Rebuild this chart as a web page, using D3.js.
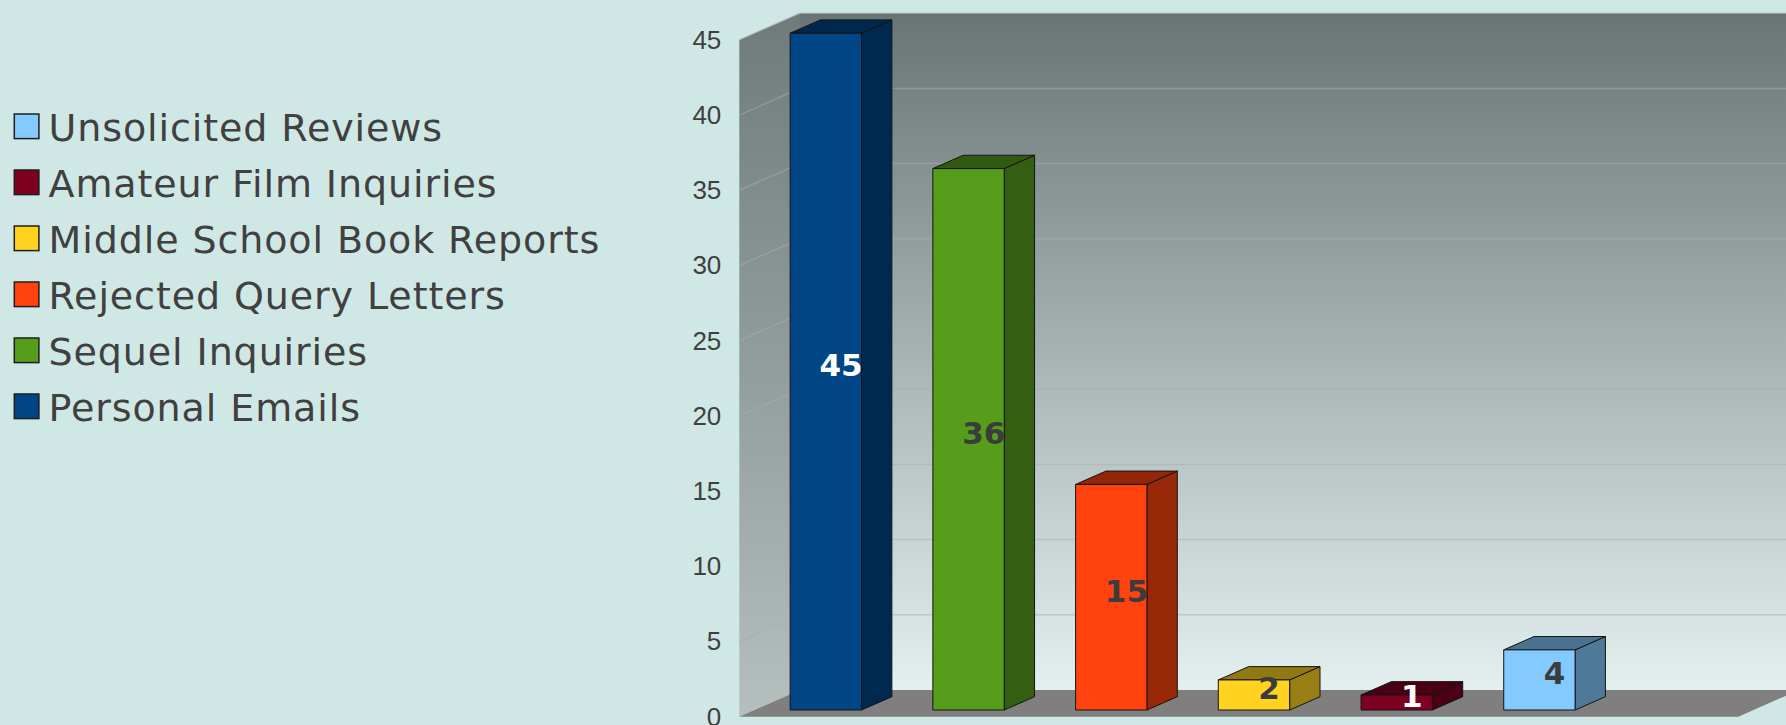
<!DOCTYPE html>
<html>
<head>
<meta charset="utf-8">
<script src="https://cdn.jsdelivr.net/npm/d3@7"></script>
<style>
  html, body { margin: 0; padding: 0; background: #d0e8e5; }
  svg { display: block; }
</style>
</head>
<body>
<svg id="chart" width="1786" height="725"></svg>
<script>
// Mail received, one bar per kind
const categories = ["Personal Emails", "Sequel Inquiries", "Rejected Query Letters",
                    "Middle School Book Reports", "Amateur Film Inquiries", "Unsolicited Reviews"];
const values = [45, 36, 15, 2, 1, 4];
const colors = ["#004586", "#579d1c", "#ff420e", "#ffd320", "#7e0021", "#83caff"];
const yTicks = [0, 5, 10, 15, 20, 25, 30, 35, 40, 45];

const W = 1786, H = 725;
const svg = d3.select("#chart");

// 3D box geometry: front face of the plot, and the depth offset of the back wall
const left = 739.3, floorY = 716.7, plotW = 999, depthX = 60.7, depthY = 26.7;
const slots = categories.length + 1; // floor is one slot wider than the bars need

const y = d3.scaleLinear().domain([0, 45]).range([floorY, floorY - 45 * 15.04]);
const x = d3.scaleBand().domain(categories)
  .range([left, left + plotW * categories.length / slots])
  .paddingInner(0.5).paddingOuter(0.25);

// project (x, value, depth 0..1) to screen
const P = (px, v, z) => [px + z * depthX, y(v) - z * depthY];
const poly = pts => "M" + pts.map(p => p.join(",")).join("L") + "Z";

const defs = svg.append("defs");
const gBack = defs.append("linearGradient").attr("id", "backGrad")
  .attr("x1", 0).attr("y1", 0).attr("x2", 0).attr("y2", 1);
gBack.append("stop").attr("offset", 0).attr("stop-color", "#687574");
gBack.append("stop").attr("offset", 1).attr("stop-color", "#e4f0ef");
const gSide = defs.append("linearGradient").attr("id", "sideGrad")
  .attr("x1", 0).attr("y1", 0).attr("x2", 0).attr("y2", 1);
gSide.append("stop").attr("offset", 0).attr("stop-color", "#6f7b7a");
gSide.append("stop").attr("offset", 1).attr("stop-color", "#b4bfbe");

const yMax = 45;
// back wall
svg.append("path")
  .attr("d", poly([P(left, 0, 1), P(left, yMax, 1), P(left + plotW, yMax, 1), P(left + plotW, 0, 1)]))
  .attr("fill", "url(#backGrad)");
// side wall
svg.append("path")
  .attr("d", poly([P(left, 0, 0), P(left, yMax, 0), P(left, yMax, 1), P(left, 0, 1)]))
  .attr("fill", "url(#sideGrad)");

// grid lines on back and side walls
const grid = svg.append("g").attr("stroke", "#ababab").attr("stroke-opacity", 0.5)
  .attr("stroke-width", 1.5).attr("fill", "none");
yTicks.filter(v => v > 0).forEach(v => {
  grid.append("path").attr("d", "M" + P(left, v, 1) + "L" + P(left + plotW, v, 1));
  grid.append("path").attr("d", "M" + P(left, v, 0) + "L" + P(left, v, 1));
});

// floor
svg.append("path")
  .attr("d", poly([P(left, 0, 0), P(left, 0, 1), P(left + plotW, 0, 1), P(left + plotW, 0, 0)]))
  .attr("fill", "#7f7f7f");

const shade = (c, k) => { const r = d3.rgb(c); return d3.rgb(r.r * k, r.g * k, r.b * k).formatHex(); };
const lum = c => { const r = d3.rgb(c); return (0.2126 * r.r + 0.7152 * r.g + 0.0722 * r.b) / 255; };

const z0 = 0.25, z1 = 0.75;
const bars = svg.append("g").attr("stroke", "#141414").attr("stroke-width", 1).attr("stroke-linejoin", "round");
categories.forEach((c, i) => {
  const v = values[i], bx = x(c), bw = x.bandwidth();
  const g = bars.append("g");
  g.append("path") // side
    .attr("d", poly([P(bx + bw, 0, z0), P(bx + bw, v, z0), P(bx + bw, v, z1), P(bx + bw, 0, z1)]))
    .attr("fill", shade(colors[i], 0.6));
  g.append("path") // top
    .attr("d", poly([P(bx, v, z0), P(bx + bw, v, z0), P(bx + bw, v, z1), P(bx, v, z1)]))
    .attr("fill", shade(colors[i], 0.57));
  g.append("path") // front
    .attr("d", poly([P(bx, 0, z0), P(bx, v, z0), P(bx + bw, v, z0), P(bx + bw, 0, z0)]))
    .attr("fill", colors[i]);
});

// value labels at the centre of each bar
const labels = svg.append("g")
  .attr("font-family", "'DejaVu Sans', sans-serif").attr("font-weight", "bold")
  .attr("font-size", 31).attr("text-anchor", "middle");
categories.forEach((c, i) => {
  const v = values[i];
  const p = P(x(c) + x.bandwidth() / 2, v / 2, 0.5);
  labels.append("text")
    .attr("x", p[0]).attr("y", p[1]).attr("dy", "0.36em")
    .attr("fill", lum(colors[i]) < 0.3 ? "#ffffff" : "#3c3c3c")
    .text(v);
});

// value axis
const axis = svg.append("g").attr("transform", `translate(${left},0)`)
  .call(d3.axisLeft(y).tickValues(yTicks).tickSize(0).tickPadding(18));
axis.select(".domain").remove();
axis.selectAll("text")
  .attr("font-family", "'Liberation Sans', Arial, sans-serif")
  .attr("font-size", 26).attr("fill", "#404040");

// legend, listed in reverse of the bar order
const legendItems = categories.map((c, i) => ({ name: c, color: colors[i] })).reverse();
const legend = svg.append("g");
legendItems.forEach((d, i) => {
  const cy = 126.3 + i * 56;
  legend.append("rect")
    .attr("x", 14.3).attr("y", cy - 12.3).attr("width", 24.6).attr("height", 24.6)
    .attr("fill", d.color).attr("stroke", "#1e1e1e").attr("stroke-width", 1.5);
  legend.append("text")
    .attr("x", 48.5).attr("y", cy + 14.7)
    .attr("font-family", "'DejaVu Sans', sans-serif").attr("font-size", 38)
    .attr("letter-spacing", 0.9)
    .attr("fill", "#404040")
    .text(d.name);
});
</script>
</body>
</html>
